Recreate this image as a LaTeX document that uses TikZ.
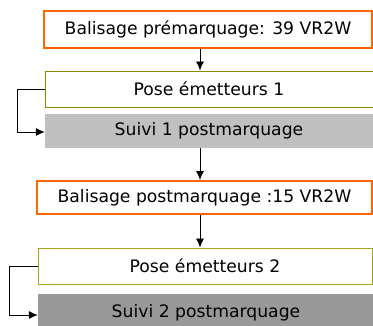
\documentclass[tikz,border=0pt]{standalone}
\usepackage{fontspec}
\setmainfont{DejaVu Sans}
\definecolor{markorange}{RGB}{255,102,0}
\definecolor{poseolive}{RGB}{140,140,0}
\definecolor{poseyellow}{RGB}{165,165,20}
\definecolor{suivigray}{RGB}{192,192,192}
\definecolor{suividark}{RGB}{153,153,153}
\usetikzlibrary{arrows.meta,calc}

\tikzset{
  balisebox/.style={draw=markorange, line width=2pt, fill=white, inner sep=0pt},
  posebox/.style={draw=#1, line width=1pt, fill=white, inner sep=0pt},
  suivibox/.style={fill=#1, inner sep=0pt},
  arr/.style={-{Latex[length=9pt,width=8pt]}, line width=0.8pt},
}

\begin{document}
\begin{tikzpicture}[x=1pt, y=1pt, font=\fontsize{17.2}{20}\selectfont]
  \useasboundingbox[fill=white] (0,0) rectangle (373,325);

  % first phase
  \node[balisebox, minimum width=328pt, minimum height=37pt] (b1) at (208,295.5) {Balisage prémarquage: 39 VR2W};
  \node[posebox=poseolive, minimum width=328pt, minimum height=36pt] (p1) at (209,236) {Pose émetteurs 1};
  \node[suivibox=suivigray, minimum width=328pt, minimum height=34pt] (s1) at (209,194) {Suivi 1 postmarquage};

  % second phase
  \node[balisebox, minimum width=335pt, minimum height=33pt] (b2) at (204.5,127.5) {Balisage postmarquage :15 VR2W};
  \node[posebox=poseyellow, minimum width=334pt, minimum height=36pt] (p2) at (205,59) {Pose émetteurs 2};
  \node[suivibox=suividark, minimum width=336pt, minimum height=38pt] (s2) at (206,12) {Suivi 2 postmarquage};

  \coordinate (ax) at (200,0);
  \draw[arr] (b1.south -| ax) -- (p1.north -| ax);
  \draw[arr] (s1.south -| ax) -- (b2.north -| ax);
  \draw[arr] (b2.south -| ax) -- (p2.north -| ax);
  \draw[arr] (p1.west) -- ++(-27,0) |- ($(s1.west)+(0,-1)$);
  \draw[arr] (p2.west) -- ++(-28,0) |- ($(s2.west)+(0,-2)$);
\end{tikzpicture}
\end{document}
